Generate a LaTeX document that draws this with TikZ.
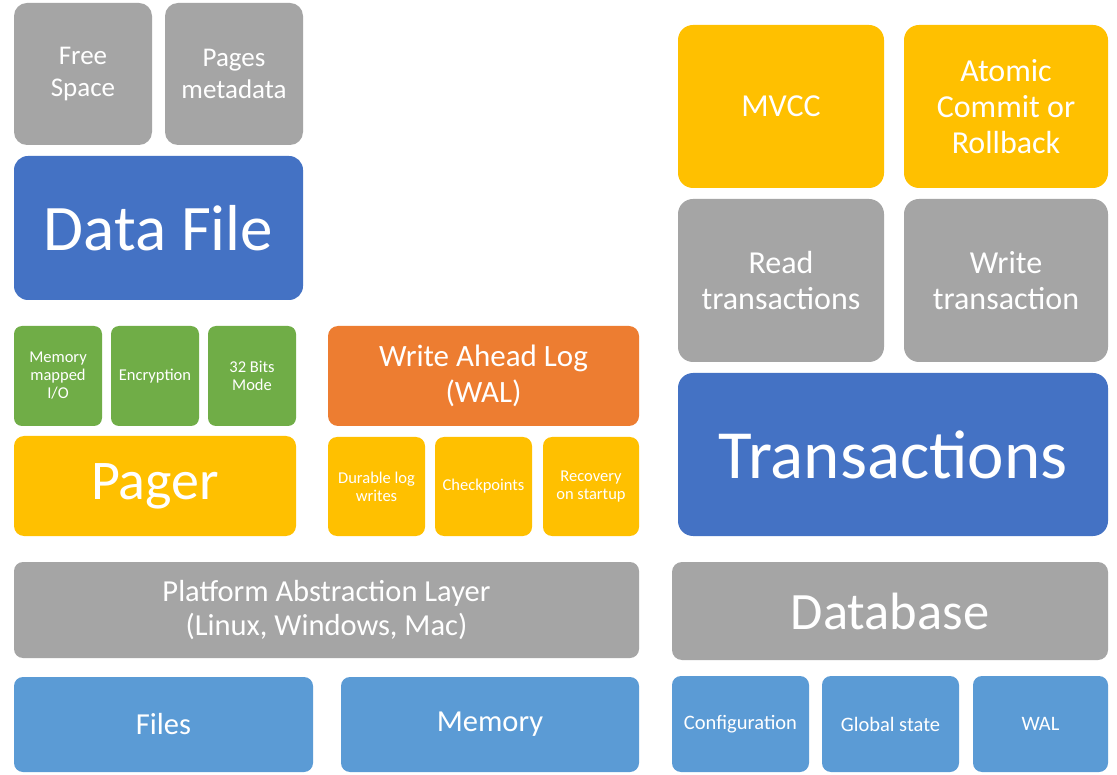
\documentclass[tikz,border=0pt]{standalone}
\usepackage{fontspec}
\setmainfont{Carlito}
\definecolor{cgray}{HTML}{A5A5A5}
\definecolor{cblue}{HTML}{4472C4}
\definecolor{cgreen}{HTML}{70AD47}
\definecolor{cyellow}{HTML}{FFC000}
\definecolor{corange}{HTML}{ED7D31}
\definecolor{clblue}{HTML}{5B9BD5}
\newcommand{\fs}[2]{\fontsize{#1pt}{#2pt}\selectfont}
\begin{document}
\begin{tikzpicture}[x=1pt,y=-1pt,
  blk/.style={inner sep=0pt, outer sep=0pt, text=white, align=center, rounded corners=#1},
  blk/.default=10pt,
  fgray/.style={fill=cgray},
  fblue/.style={fill=cblue},
  fgreen/.style={fill=cgreen},
  fyellow/.style={fill=cyellow},
  forange/.style={fill=corange},
  flblue/.style={fill=clblue},
  tsmall/.style={font=\fs{16.5}{18}},
  tmid/.style={font=\fs{27}{31.5}},
  tbig/.style={font=\fs{32}{36}},
  tcfg/.style={font=\fs{20.5}{24}},
  tlow/.style={font=\fs{30.5}{34}}
]
\useasboundingbox[fill=white] (0,0) rectangle (1117,775);

% Data file column
\node[blk=13pt, fgray, tmid, minimum width=138pt, minimum height=142pt] (free) at (83,74) {Free\\Space};
\node[blk=13pt, fgray, tmid, minimum width=138pt, minimum height=142pt] (meta) at (234,74) {Pages\\metadata};
\node[blk=14pt, fblue, font=\fs{65}{70}, minimum width=289pt, minimum height=144pt] (datafile) at (158.5,228) {Data File};

% Pager
\node[blk=8pt, fgreen, tsmall, minimum width=88pt, minimum height=100pt] (mmio) at (58,376) {Memory\\mapped\\I/O};
\node[blk=8pt, fgreen, tsmall, minimum width=88pt, minimum height=100pt] (enc) at (155,376) {Encryption};
\node[blk=8pt, fgreen, tsmall, minimum width=88pt, minimum height=100pt] (bits) at (252,376) {32 Bits\\Mode};
\node[blk=10pt, fyellow, font=\fs{56}{60}, minimum width=282pt, minimum height=100pt] (pager) at (155,486) {Pager};

% WAL
\node[blk=10pt, forange, font=\fs{31}{35.5}, minimum width=311pt, minimum height=100pt] (wal) at (483.5,376) {Write Ahead Log\\(WAL)};
\node[blk=9pt, fyellow, tsmall, minimum width=97pt, minimum height=99pt] (durable) at (376.5,486.5) {Durable log\\writes};
\node[blk=9pt, fyellow, tsmall, minimum width=97pt, minimum height=99pt] (ckpt) at (483.5,486.5) {Checkpoints};
\node[blk=9pt, fyellow, tsmall, minimum width=96pt, minimum height=99pt] (recov) at (591,486.5) {Recovery\\on startup};

% Platform
\node[blk=9pt, fgray, tlow, minimum width=625pt, minimum height=96pt] (pal) at (326.5,610) {Platform Abstraction Layer\\(Linux, Windows, Mac)};
\node[blk=9pt, flblue, tlow, minimum width=299pt, minimum height=95pt] (files) at (163.5,724.5) {Files};
\node[blk=9pt, flblue, tlow, minimum width=298pt, minimum height=95pt] (mem) at (490,724.5) {Memory};

% Transactions
\node[blk=15pt, fyellow, tbig, minimum width=206pt, minimum height=163pt] (mvcc) at (781,106.5) {MVCC};
\node[blk=15pt, fyellow, tbig, minimum width=204pt, minimum height=163pt] (atomic) at (1006,106.5) {Atomic\\Commit or\\Rollback};
\node[blk=15pt, fgray, tbig, minimum width=206pt, minimum height=163pt] (read) at (781,280.5) {Read\\transactions};
\node[blk=15pt, fgray, tbig, minimum width=204pt, minimum height=163pt] (write) at (1006,280.5) {Write\\transaction};
\node[blk=15pt, fblue, font=\fs{69}{74}, minimum width=430pt, minimum height=163pt] (trans) at (893,454.5) {Transactions};

% Database
\node[blk=10pt, fgray, font=\fs{52.5}{56}, minimum width=436pt, minimum height=98pt] (db) at (890,611) {Database};
\node[blk=9pt, flblue, tcfg, minimum width=137pt, minimum height=96pt] (config) at (740.5,724) {Configuration};
\node[blk=9pt, flblue, tcfg, minimum width=137pt, minimum height=96pt] (global) at (890.5,724) {Global state};
\node[blk=9pt, flblue, tcfg, minimum width=135pt, minimum height=96pt] (walb) at (1040.5,724) {WAL};
\end{tikzpicture}
\end{document}
